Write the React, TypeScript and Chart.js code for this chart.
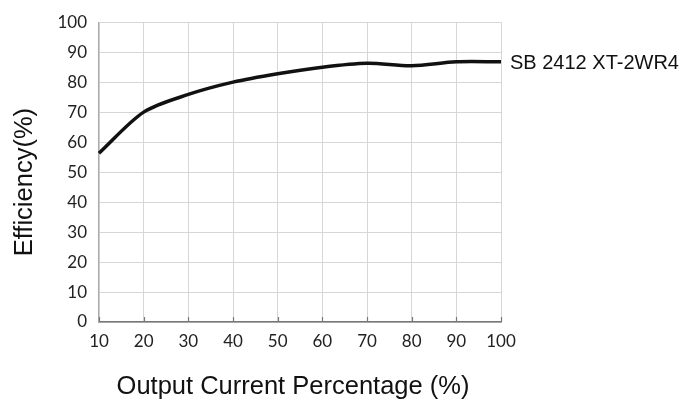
import React, { useEffect, useRef } from "react";
import { Chart, registerables } from "chart.js";

Chart.register(...registerables);

const currentPct = [10, 20, 30, 40, 50, 60, 70, 80, 90, 100];
const efficiency = [56.3, 70.0, 75.9, 80.0, 82.8, 85.0, 86.3, 85.5, 86.8, 86.8];
const seriesLabel = "SB 2412 XT-2WR4";
const xTitle = "Output Current Percentage (%)";
const yTitle = "Efficiency(%)";

const W = 687;
const H = 405;

const decorPlugin = {
  id: "decor",
  afterDraw(chart: any) {
    const { ctx, chartArea, scales } = chart;
    const xs = scales.x;
    const ys = scales.y;
    ctx.save();
    ctx.strokeStyle = "#777";
    ctx.lineWidth = 1.2;
    for (const v of currentPct) {
      const px = Math.round(xs.getPixelForValue(v)) + 0.5;
      ctx.beginPath();
      ctx.moveTo(px, chartArea.bottom);
      ctx.lineTo(px, chartArea.bottom - 5);
      ctx.stroke();
    }
    const lastX = xs.getPixelForValue(currentPct[currentPct.length - 1]);
    const lastY = ys.getPixelForValue(efficiency[efficiency.length - 1]);
    ctx.fillStyle = "#111";
    ctx.font = "20px 'Liberation Sans', Arial, sans-serif";
    ctx.textBaseline = "middle";
    ctx.textAlign = "left";
    ctx.fillText(seriesLabel, lastX + 9, lastY + 2);
    ctx.font = "25.5px 'Liberation Sans', Arial, sans-serif";
    ctx.textAlign = "center";
    ctx.fillText(xTitle, (chartArea.left + chartArea.right) / 2 - 7, chartArea.bottom + 65);
    ctx.translate(25, (chartArea.top + chartArea.bottom) / 2 + 10);
    ctx.rotate(-Math.PI / 2);
    ctx.fillText(yTitle, 0, 0);
    ctx.restore();
  },
};

export default function App() {
  const ref = useRef<HTMLCanvasElement | null>(null);
  useEffect(() => {
    if (!ref.current) return;
    const chart = new Chart(ref.current, {
      type: "line",
      data: {
        datasets: [
          {
            label: seriesLabel,
            data: currentPct.map((x, i) => ({ x, y: efficiency[i] })),
            borderColor: "#111",
            borderWidth: 3.5,
            pointRadius: 0,
            tension: 0.3,
            fill: false,
            clip: false as any,
          },
        ],
      },
      options: {
        responsive: false,
        animation: false,
        layout: { padding: { left: 0, right: 186, top: 20, bottom: 0 } },
        plugins: { legend: { display: false }, tooltip: { enabled: false } },
        scales: {
          x: {
            type: "linear",
            min: 10,
            max: 100,
            ticks: {
              stepSize: 10,
              padding: 9,
              color: "#222",
              font: { family: "Lato", size: 17 },
            },
            grid: { color: "#d6d6d6", lineWidth: 1, drawTicks: false },
            border: { color: "#777", width: 1.5 },
            afterFit: (s: any) => {
              s.height = 83;
            },
          },
          y: {
            min: 0,
            max: 100,
            ticks: {
              stepSize: 10,
              padding: 12,
              color: "#222",
              font: { family: "Lato", size: 17 },
            },
            grid: { color: "#d6d6d6", lineWidth: 1, drawTicks: false },
            border: { color: "#aaa", width: 1.2 },
            afterFit: (s: any) => {
              s.width = 99;
            },
          },
        },
      },
      plugins: [decorPlugin],
    } as any);
    return () => chart.destroy();
  }, []);
  return (
    <div style={{ position: "fixed", left: 0, top: 0, width: W, height: H, background: "#fff" }}>
      <canvas ref={ref} width={W} height={H} />
    </div>
  );
}
